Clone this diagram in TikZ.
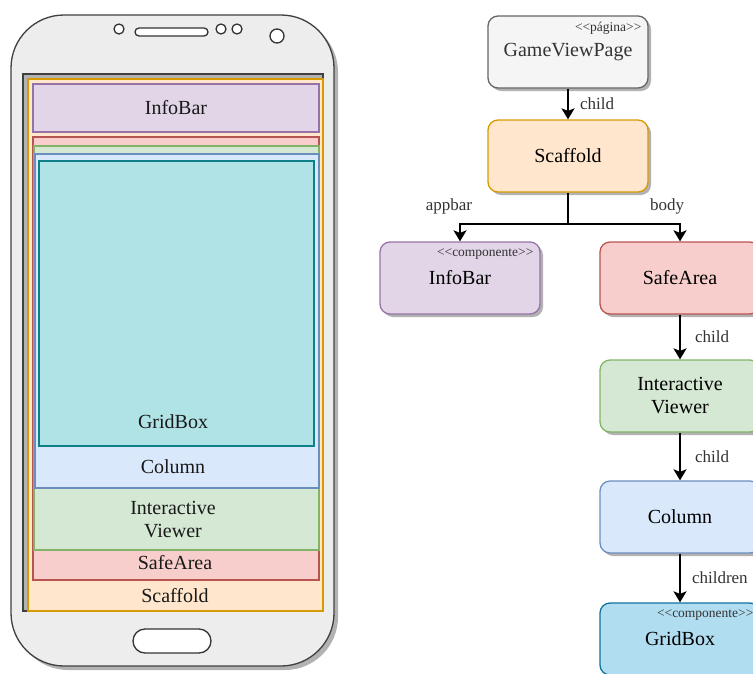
\documentclass[tikz,border=0pt]{standalone}
\usepackage{fontspec}
\setmainfont{Liberation Serif}
\usetikzlibrary{arrows.meta,shadows,positioning}

\definecolor{grayF}{HTML}{F5F5F5}\definecolor{grayD}{HTML}{666666}
\definecolor{orgF}{HTML}{FFE6CC}\definecolor{orgD}{HTML}{D79B00}
\definecolor{purF}{HTML}{E1D5E7}\definecolor{purD}{HTML}{9673A6}
\definecolor{redF}{HTML}{F8CECC}\definecolor{redD}{HTML}{B85450}
\definecolor{grnF}{HTML}{D5E8D4}\definecolor{grnD}{HTML}{82B366}
\definecolor{bluF}{HTML}{DAE8FC}\definecolor{bluD}{HTML}{6C8EBF}
\definecolor{tealF}{HTML}{B0E3E6}\definecolor{tealD}{HTML}{0E8088}
\definecolor{gbF}{HTML}{B1DDF0}\definecolor{gbD}{HTML}{10739E}
\definecolor{txt}{HTML}{333333}

\begin{document}
\begin{tikzpicture}[x=1pt,y=-1pt,>={Stealth[length=11pt,width=13pt,inset=2.5pt]},
    tbox/.style={draw, rounded corners=10pt, line width=1.3pt, minimum width=160pt,
        minimum height=72pt, align=center, font=\fontsize{20}{23}\selectfont,
        drop shadow={shadow xshift=3pt, shadow yshift=-3pt, fill=black!30, opacity=1}},
    layer/.style={line width=1.2pt},
    lbl/.style={font=\fontsize{20}{23}\selectfont, align=center, text=black!90},
    edgelbl/.style={font=\fontsize{17}{20}\selectfont, text=txt, inner sep=2pt},
    stereo/.style={font=\fontsize{13.5}{16}\selectfont, text=txt, inner sep=1pt},
    hole/.style={draw=black!80, fill=white, line width=1.3pt},
    arr/.style={->, line width=2pt}]

        \useasboundingbox (0,0) rectangle (753,673);

        % телефон
        \draw[draw=black!75, fill=black!7, line width=1.3pt, rounded corners=53pt,
            drop shadow={shadow xshift=4pt, shadow yshift=-4pt, fill=black!30, opacity=1}]
            (11,15) rectangle (334,666);
        \draw[hole] (119,29) circle (5);
        \draw[hole, rounded corners=4] (135,28) rectangle (208,36); % динамик
        \draw[hole] (221,29) circle (5);
        \draw[hole] (237,29) circle (5);
        \draw[hole] (277,36) circle (7); % камера
        \draw[hole, rounded corners=12] (133,629) rectangle (211,653); % кнопка

        % экран
        \draw[layer, draw=black!75, fill=black!30] (23,74) rectangle (323,611);
        \draw[layer, draw=orgD, fill=orgF] (28,79) rectangle (323,611);
        \draw[layer, draw=purD, fill=purF] (33,84) rectangle (319,132);
        \draw[layer, draw=redD, fill=redF] (33,137) rectangle (319,580);
        \draw[layer, draw=grnD, fill=grnF] (34,146) rectangle (319,550);
        \draw[layer, draw=bluD, fill=bluF] (35,154) rectangle (319,488);
        \draw[layer, draw=tealD, fill=tealF] (39,161) rectangle (314,446);

        \node[lbl] (pInfo) at (176,108) {InfoBar};
        \node[lbl] (pGrid) at (173,422) {GridBox};
        \node[lbl] (pCol) at (173,467) {Column};
        \node[lbl] (pView) at (173,520) {Interactive\\Viewer};
        \node[lbl] (pSafe) at (175,563) {SafeArea};
        \node[lbl] (pScaf) at (175,596) {Scaffold};

        % дерево
        \node[tbox, draw=grayD, fill=grayF, text=txt] (gvp) at (568,52) {GameViewPage};
        \node[tbox, draw=orgD, fill=orgF] (scaf) at (568,156) {Scaffold};
        \node[tbox, draw=purD, fill=purF] (info) at (460,278) {InfoBar};
        \node[tbox, draw=redD, fill=redF] (safe) at (680,278) {SafeArea};
        \node[tbox, draw=grnD, fill=grnF] (iview) at (680,396) {Interactive\\Viewer};
        \node[tbox, draw=bluD, fill=bluF] (col) at (680,517) {Column};
        \node[tbox, draw=gbD, fill=gbF] (grid) at (680,639) {GridBox};

        \node[stereo, anchor=north east] (gvpSt) at ([xshift=-6pt,yshift=-6pt]gvp.north east) {<{}<página>{}>};
        \node[stereo, anchor=north east] (infoSt) at ([xshift=-6pt,yshift=-6pt]info.north east) {<{}<componente>{}>};
        \node[stereo, anchor=north east] (gridSt) at ([xshift=-6pt,yshift=-6pt]grid.north east) {<{}<componente>{}>};

        \draw[arr] (gvp) -- node[edgelbl, midway, right=9pt] (lChild1) {child} (scaf);

        \coordinate (split) at ([yshift=-31pt]scaf.south);
        \draw[line width=2pt] (scaf.south) -- (split);
        \draw[arr] (split) -| (info.north);
        \draw[arr] (split) -| (safe.north);
        \node[edgelbl] (lApp) at (449,206) {appbar};
        \node[edgelbl] (lBody) at (667,206) {body};

        \draw[arr] (safe) -- node[edgelbl, midway, right=12pt] (lChild2) {child} (iview);
        \draw[arr] (iview) -- node[edgelbl, midway, right=12pt] (lChild3) {child} (col);
        \draw[arr] (col) -- node[edgelbl, midway, right=9pt] (lChildren) {children} (grid);
    \end{tikzpicture}
\end{document}
